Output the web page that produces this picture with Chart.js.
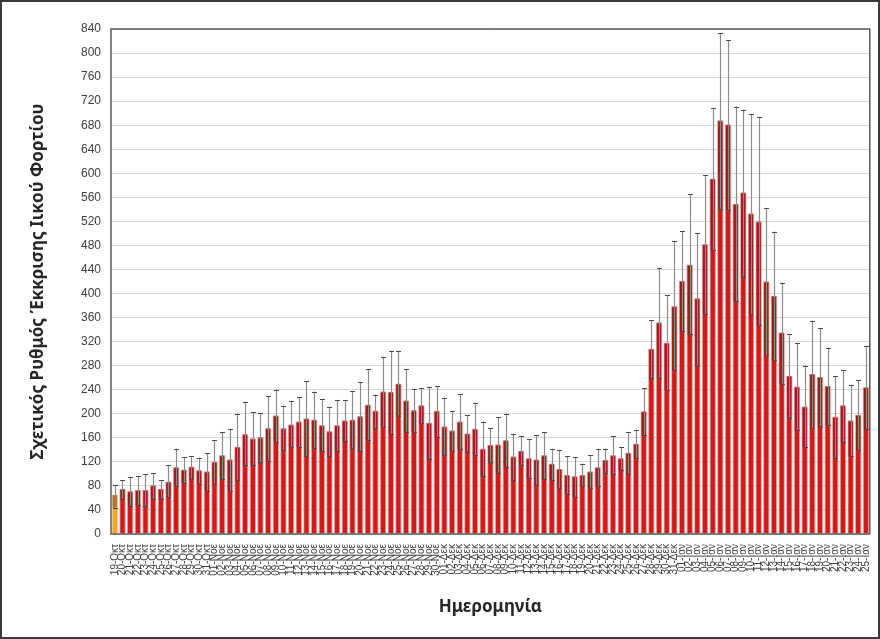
<!DOCTYPE html>
<html>
<head>
<meta charset="utf-8">
<script src="https://cdn.jsdelivr.net/npm/chart.js@4"></script>
<style>
  html, body { margin: 0; padding: 0; background: #fff; }
  #wrap { width: 880px; height: 639px; }
</style>
</head>
<body>
<div id="wrap"><canvas id="barChart" width="880" height="639"></canvas></div>
<script>
// date ranges for the categories (day from, day to, month)
var months = [['Οκτ', 19, 31], ['Νοε', 1, 30], ['Δεκ', 1, 31], ['Ιαν', 1, 25]];
var labels = [];
months.forEach(function (m) {
    for (var d = m[1]; d <= m[2]; d++) {
        labels.push((d < 10 ? '0' + d : '' + d) + '-' + m[0]);
    }
});

// relative viral load per day
var values = [65, 75, 71, 73, 73, 81, 75, 87, 111, 107, 112, 106, 104,
    120, 131, 124, 145, 166, 159, 161, 176, 197, 176, 182, 187, 192, 190, 181, 171, 181, 189, 190, 196,
    215, 205, 237, 236, 250, 222, 206, 214, 185, 205,
    179, 172, 187, 167, 175, 142, 148, 149, 156, 129, 138, 126, 124, 131, 117, 108, 98, 96, 98, 104,
    111, 123, 131, 126, 135, 150, 204, 308, 352, 318, 379,
    421, 448, 392, 482, 591, 688, 681, 549, 568, 533, 520, 420, 396, 335, 263, 245, 212, 266, 261,
    246, 195, 214, 189, 198, 244];

// upper end of the error bar
var hi = [82, 90, 95, 97, 99, 101, 90, 115, 142, 128, 130, 127, 135,
    156, 170, 175, 200, 220, 203, 201, 229, 240, 213, 221, 228, 254, 237, 224, 211, 223, 223, 238, 253,
    274, 232, 295, 305, 305, 274, 241, 243, 245, 246,
    226, 205, 233, 198, 218, 187, 176, 194, 200, 167, 163, 158, 165, 169, 142, 140, 129, 128, 117, 131,
    142, 142, 163, 144, 170, 173, 243, 356, 443, 397, 487,
    504, 565, 501, 597, 709, 833, 821, 711, 706, 699, 694, 542, 503, 418, 333, 317, 280, 355, 343,
    310, 262, 273, 248, 256, 313];

// lower end of the error bar
var lo = [44, 59, 47, 48, 46, 59, 59, 61, 80, 85, 92, 84, 72,
    84, 91, 71, 90, 114, 115, 119, 122, 153, 139, 145, 145, 129, 143, 138, 129, 138, 154, 143, 138,
    156, 176, 178, 166, 197, 170, 170, 184, 125, 162,
    131, 138, 141, 137, 131, 96, 119, 102, 112, 90, 115, 93, 82, 92, 89, 76, 67, 62, 80, 77,
    80, 102, 99, 107, 100, 127, 164, 259, 260, 239, 272,
    337, 332, 280, 366, 472, 541, 539, 387, 428, 365, 347, 297, 289, 250, 193, 173, 144, 176, 179,
    181, 127, 153, 129, 139, 175];

var barColors = values.map(function (v, i) { return i === 0 ? '#eea62c' : '#d01b1b'; });
var edgeColors = values.map(function (v, i) { return i === 0 ? '#f6cf8a' : '#f0a0a0'; });

var errorBars = {
    id: 'errorBars',
    afterDatasetsDraw: function (chart) {
        var ctx = chart.ctx;
        var y = chart.scales.y;
        var meta = chart.getDatasetMeta(0);
        ctx.save();
        meta.data.forEach(function (bar, i) {
            var x = Math.round(bar.x) + 0.5;
            var w = bar.width;
            var yv = y.getPixelForValue(values[i]);
            var yh = y.getPixelForValue(hi[i]);
            var yl = y.getPixelForValue(lo[i]);
            // darker band inside the bar
            ctx.fillStyle = 'rgba(90,20,20,0.4)';
            ctx.fillRect(bar.x - w / 2 + 1, yv, w - 2, yl - yv);
            // whisker
            ctx.strokeStyle = '#8c8c8c';
            ctx.lineWidth = 1.2;
            ctx.beginPath();
            ctx.moveTo(x, yh);
            ctx.lineTo(x, yl);
            ctx.stroke();
            // caps
            ctx.strokeStyle = '#4a4a4a';
            ctx.lineWidth = 1;
            ctx.beginPath();
            ctx.moveTo(x - 2.5, Math.round(yh) + 0.5);
            ctx.lineTo(x + 2.5, Math.round(yh) + 0.5);
            ctx.moveTo(x - 2.5, Math.round(yl) + 0.5);
            ctx.lineTo(x + 2.5, Math.round(yl) + 0.5);
            ctx.stroke();
        });
        ctx.restore();
    }
};

var frames = {
    id: 'frames',
    afterDraw: function (chart) {
        var ctx = chart.ctx;
        var a = chart.chartArea;
        ctx.save();
        ctx.strokeStyle = '#595959';
        ctx.lineWidth = 1.5;
        ctx.strokeRect(a.left, a.top, a.right - a.left, a.bottom - a.top);
        ctx.strokeStyle = '#3a3a3a';
        ctx.lineWidth = 2;
        ctx.strokeRect(1, 1, chart.width - 2, chart.height - 2);
        ctx.restore();
    }
};

var ctx = document.getElementById('barChart').getContext('2d');
var myChart = new Chart(ctx, {
    type: 'bar',
    data: {
        labels: labels,
        datasets: [{
            data: values,
            backgroundColor: barColors,
            borderColor: edgeColors,
            borderWidth: 1,
            categoryPercentage: 1,
            barPercentage: 0.85
        }]
    },
    options: {
        responsive: false,
        animation: false,
        layout: { padding: { top: 29, right: 10, bottom: 20, left: 20 } },
        plugins: {
            legend: { display: false },
            tooltip: { enabled: false }
        },
        scales: {
            x: {
                grid: { display: false },
                border: { display: false },
                ticks: {
                    autoSkip: false,
                    maxRotation: 90,
                    minRotation: 90,
                    padding: 2,
                    color: '#404040',
                    font: { family: 'Liberation Sans', size: 10 }
                },
                title: {
                    display: true,
                    text: 'Ημερομηνία',
                    color: '#262626',
                    padding: { top: 0, bottom: 2 },
                    font: { family: 'Noto Sans', size: 17, weight: 'bold' }
                },
                afterFit: function (scale) { scale.height = 85; }
            },
            y: {
                min: 0,
                max: 840,
                grid: { color: '#d9d9d9', drawTicks: false },
                border: { display: false },
                ticks: {
                    stepSize: 40,
                    padding: 10,
                    color: '#404040',
                    font: { family: 'Liberation Sans', size: 12 }
                },
                title: {
                    display: true,
                    text: 'Σχετικός Ρυθμός Έκκρισης Ιικού Φορτίου',
                    color: '#262626',
                    padding: { top: 8, bottom: 0 },
                    font: { family: 'Noto Sans', size: 17, weight: 'bold' }
                },
                afterFit: function (scale) { scale.width = 91; }
            }
        }
    },
    plugins: [errorBars, frames]
});
</script>
</body>
</html>
